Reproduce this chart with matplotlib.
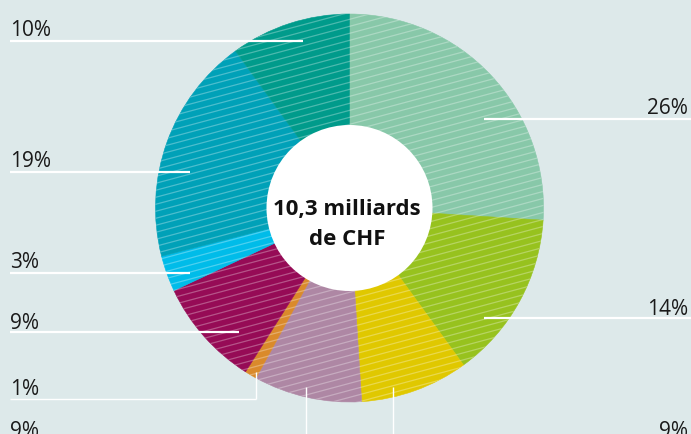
import numpy as np
import matplotlib.pyplot as plt
from matplotlib.patches import Circle
from matplotlib.collections import LineCollection

# parts du total (%) dans le sens des aiguilles d'une montre depuis midi
shares = [26, 14, 9, 9, 1, 9, 3, 19, 10]
labels = ['26%', '14%', '9%', '9%', '1%', '9%', '3%', '19%', '10%']
colors = ['#88c8a9', '#97c21e', '#e0c800', '#ae87a4', '#da8a2b',
          '#960b56', '#00bce9', '#00a1b8', '#009b8b']
center_text = ['10,3 milliards', 'de CHF']

BG = '#dde9ea'
W, H = 691, 435

fig = plt.figure(figsize=(W / 100, H / 100), dpi=100, facecolor=BG)
ax = fig.add_axes([0, 0, 1, 1])
ax.set_facecolor(BG)

cx, cy = 349.5, H - 209
R, r_in = 194, 83

wedges, _ = ax.pie(shares, colors=colors, startangle=90, counterclock=False,
                   radius=R, center=(cx, cy), frame=True,
                   wedgeprops=dict(linewidth=0.4, edgecolor='none', antialiased=True))
for w, c in zip(wedges, colors):
    w.set_edgecolor(c)

# rayures diagonales claires
clip = Circle((cx, cy), R, transform=ax.transData)
slope = np.tan(np.radians(15))
segs = []
for c0 in np.arange(-400, 600, 7.0):
    x0, x1 = cx - R - 5, cx + R + 5
    segs.append([(x0, c0 + slope * x0), (x1, c0 + slope * x1)])
lc = LineCollection(segs, colors='white', linewidths=0.9, alpha=0.3, zorder=2)
lc.set_clip_path(clip)
ax.add_collection(lc)

# disque central
ax.add_patch(Circle((cx, cy), r_in, facecolor='white', edgecolor='none', zorder=3))
ax.text(cx - 3, H - 215, center_text[0], ha='center', va='baseline', fontsize=16,
        fontweight='bold', family='Open Sans', color='#111111', zorder=4)
ax.text(cx - 2, H - 245, center_text[1], ha='center', va='baseline', fontsize=16,
        fontweight='bold', family='Open Sans', color='#111111', zorder=4)

# étiquettes : (côté, ligne de base du texte, y de la ligne, x fin de ligne, coude/vertical)
layout = {
    '26%': ('right', 114, 120, 484, None),
    '14%': ('right', 315, 319, 484, None),
    '9%y': ('right', 437, None, None, (393, 388)),
    '9%m': ('left', 437, None, None, (306, 388)),
    '1%': ('left', 395, 400, 256, (256, 373)),
    '9%p': ('left', 329, 333, 239, None),
    '3%': ('left', 268, 274, 190, None),
    '19%': ('left', 167, 173, 190, None),
    '10%': ('left', 36, 42, 303, None),
}
keys = ['26%', '14%', '9%y', '9%m', '1%', '9%p', '3%', '19%', '10%']

for lab, k in zip(labels, keys):
    side, base, ly, lx, vert = layout[k]
    if side == 'left':
        ax.text(10, H - base, lab, ha='left', va='baseline', fontsize=15,
                family='Open Sans', color='#1a1a1a', zorder=5)
        if ly is not None:
            lw = 1.0 if vert else 1.6
            ax.plot([10, lx], [H - ly, H - ly], color='white', lw=lw,
                    solid_capstyle='butt', zorder=5)
    else:
        ax.text(688, H - base, lab, ha='right', va='baseline', fontsize=15,
                family='Open Sans', color='#1a1a1a', zorder=5)
        if ly is not None:
            ax.plot([lx, W], [H - ly, H - ly], color='white', lw=1.6,
                    solid_capstyle='butt', zorder=5)
    if vert is not None:
        vx, vy = vert
        ybot = ly if ly is not None else H + 5
        ax.plot([vx, vx], [H - vy, H - ybot], color='white', lw=1.0,
                solid_capstyle='butt', zorder=5)

ax.set_xlim(0, W)
ax.set_ylim(0, H)
ax.set_aspect('equal')
ax.axis('off')

fig.savefig('out.png', dpi=100, facecolor=BG)
